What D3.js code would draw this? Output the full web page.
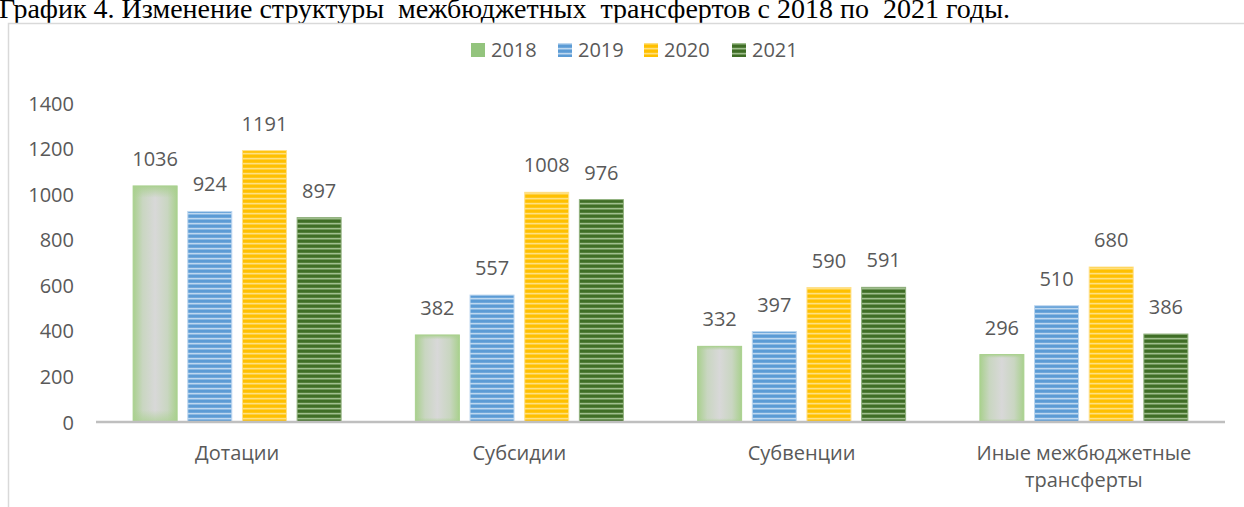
<!DOCTYPE html>
<html><head><meta charset="utf-8">
<script src="https://cdn.jsdelivr.net/npm/d3@7"></script>
<style>body{margin:0;background:#fff;overflow:hidden} svg{display:block}</style>
</head><body>
<svg id="c" width="1244" height="507"></svg>
<script>
const title = "График 4. Изменение структуры  межбюджетных  трансфертов с 2018 по  2021 годы.";
const categories = ["Дотации", "Субсидии", "Субвенции", "Иные межбюджетные трансферты"];
const years = ["2018", "2019", "2020", "2021"];
const values2018 = [1036, 382, 332, 296];
const values2019 = [924, 557, 397, 510];
const values2020 = [1191, 1008, 590, 680];
const values2021 = [897, 976, 591, 386];
const yTicks = [0, 200, 400, 600, 800, 1000, 1200, 1400];

const series = [values2018, values2019, values2020, values2021];
const svg = d3.select("#c");
const FONT = "'Open Sans', 'Noto Sans', sans-serif";
const FS = 20;
const TXT = "#595959";

// title
svg.append("text").attr("x", -1).attr("y", 18)
  .attr("font-family", "'Liberation Serif', 'Times New Roman', serif")
  .attr("font-size", 28).attr("fill", "#000").attr("xml:space", "preserve")
  .style("white-space", "pre").text(title);

// chart frame
svg.append("rect").attr("x", 8.5).attr("y", 23.5).attr("width", 1400).attr("height", 700)
  .attr("fill", "none").attr("stroke", "#d9d9d9").attr("stroke-width", 1.5);

const defs = svg.append("defs");
function stripe(id, base, light) {
  const g = defs.append("linearGradient").attr("id", id + "g").attr("x1", 0).attr("y1", 0).attr("x2", 0).attr("y2", 1);
  g.append("stop").attr("offset", "0%").attr("stop-color", base);
  g.append("stop").attr("offset", "45%").attr("stop-color", base);
  g.append("stop").attr("offset", "75%").attr("stop-color", light);
  g.append("stop").attr("offset", "100%").attr("stop-color", base);
  const p = defs.append("pattern").attr("id", id).attr("patternUnits", "userSpaceOnUse")
    .attr("width", 10).attr("height", 5);
  p.append("rect").attr("width", 10).attr("height", 5).attr("fill", `url(#${id}g)`);
}
stripe("s2019", "#5b9bd5", "#d2e4f5");
stripe("s2020", "#ffc000", "#ffe699");
stripe("s2021", "#3f6e26", "#b3cfa3");

const gh = defs.append("linearGradient").attr("id", "g2018h").attr("x1", 0).attr("x2", 1).attr("y1", 0).attr("y2", 0);
[["0%", "#a9d08e"], ["22%", "#c9d6c1"], ["50%", "#d8d8d8"], ["78%", "#c9d6c1"], ["100%", "#a9d08e"]]
  .forEach(([o, c]) => gh.append("stop").attr("offset", o).attr("stop-color", c));
const gv = defs.append("linearGradient").attr("id", "g2018v").attr("x1", 0).attr("x2", 0).attr("y1", 0).attr("y2", 1);
[["0%", "#a9d08e", 0.9], ["5%", "#a9d08e", 0], ["95%", "#a9d08e", 0], ["100%", "#a9d08e", 0.7]]
  .forEach(([o, c, a]) => gv.append("stop").attr("offset", o).attr("stop-color", c).attr("stop-opacity", a));

const fills = ["url(#g2018h)", "url(#s2019)", "url(#s2020)", "url(#s2021)"];
const strokes = ["#a9d18e", "#bcd6ef", "#ffe08a", "#8fb07c"];
const legendFills = ["#93c47d", "url(#s2019)", "url(#s2020)", "url(#s2021)"];

const x0 = d3.scaleBand().domain(categories).range([96, 1225]).padding(0);
const x1 = d3.scaleBand().domain(years).range([0, x0.bandwidth()]).paddingInner(0.177).paddingOuter(0.67);
const y = d3.scaleLinear().domain([0, 1400]).range([422, 103]);

// y axis labels
const yAxis = d3.axisLeft(y).tickValues(yTicks).tickFormat(d3.format("d")).tickSize(0).tickPadding(0);
const ya = svg.append("g").attr("transform", "translate(74,0)").call(yAxis);
ya.select(".domain").remove();
ya.selectAll("text").attr("font-family", FONT).attr("font-size", FS).attr("fill", TXT).attr("dy", "0.35em");

// bars
const groups = svg.append("g").selectAll("g").data(categories).join("g")
  .attr("transform", d => `translate(${x0(d)},0)`);
groups.each(function (cat, ci) {
  const g = d3.select(this);
  years.forEach((yr, si) => {
    const v = series[si][ci];
    const bx = x1(yr), bw = x1.bandwidth();
    g.append("rect").attr("x", bx + 0.5).attr("y", y(v)).attr("width", bw - 1).attr("height", y(0) - y(v))
      .attr("fill", fills[si]).attr("stroke", strokes[si]).attr("stroke-width", 1);
    if (si === 0) {
      g.append("rect").attr("x", bx + 0.5).attr("y", y(v)).attr("width", bw - 1).attr("height", y(0) - y(v))
        .attr("fill", "url(#g2018v)");
    }
    g.append("text").attr("x", bx + bw / 2).attr("y", y(v) - 20)
      .attr("text-anchor", "middle").attr("font-family", FONT).attr("font-size", FS).attr("fill", TXT)
      .text(v);
  });
});

// x axis line
svg.append("line").attr("x1", 96).attr("x2", 1225).attr("y1", y(0)).attr("y2", y(0))
  .attr("stroke", "#bfbfbf").attr("stroke-width", 2.5);

// category labels with wrapping
const xAxis = d3.axisBottom(x0).tickSize(0).tickPadding(0);
const xa = svg.append("g").attr("transform", `translate(0,${y(0)})`).call(xAxis);
xa.select(".domain").remove();
xa.selectAll("text").attr("font-family", FONT).attr("font-size", FS).attr("fill", TXT)
  .attr("dy", null).attr("y", 38)
  .each(function (d) {
    const t = d3.select(this);
    const words = d.split(" ");
    if (words.length > 1 && this.getComputedTextLength() > x0.bandwidth() - 40) {
      t.text(null);
      const lines = [words.slice(0, -1).join(" "), words[words.length - 1]];
      lines.forEach((ln, i) => t.append("tspan").attr("x", 0).attr("y", 38 + i * 27).text(ln));
    }
  });

// legend
const lg = svg.append("g");
const lx = [471, 558, 644, 732];
years.forEach((yr, i) => {
  lg.append("rect").attr("x", lx[i]).attr("y", 43).attr("width", 14).attr("height", 14)
    .attr("fill", legendFills[i]);
  lg.append("text").attr("x", lx[i] + 20).attr("y", 50).attr("dy", "0.35em")
    .attr("font-family", FONT).attr("font-size", FS).attr("fill", TXT).text(yr);
});
</script>
</body></html>
